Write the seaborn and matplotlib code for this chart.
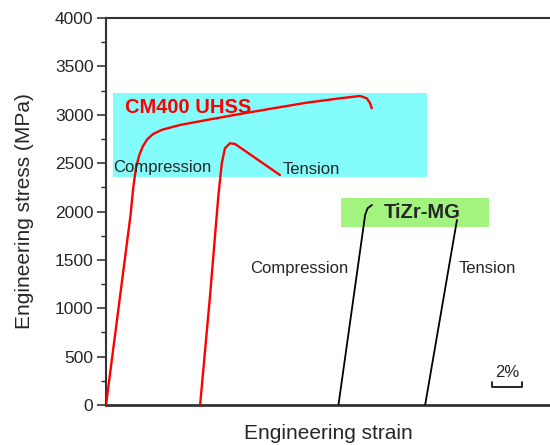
import numpy as np
import pandas as pd
import matplotlib as mpl
mpl.use("Agg")
import matplotlib.pyplot as plt
import seaborn as sns
from matplotlib.patches import Rectangle

sns.set_style("ticks")
plt.rcParams['font.family'] = ['Liberation Sans', 'DejaVu Sans']

# strain in %, curves already shifted along x as in the original figure
cm_comp_strain = [0.0, 1.62, 1.80, 1.98, 2.18, 2.42, 2.72, 3.10, 3.70, 4.88, 6.65, 8.85, 11.05,
                  13.25, 15.45, 16.77, 17.21, 17.43, 17.54]
cm_comp_stress = [0, 1964, 2250, 2450, 2575, 2670, 2745, 2800, 2845, 2894, 2946, 3008, 3067,
                  3125, 3170, 3194, 3170, 3118, 3067]

cm_tens_strain = [6.21, 6.86, 7.41, 7.64, 7.85, 8.18, 8.51, 8.84, 11.48]
cm_tens_stress = [0, 1119, 2153, 2498, 2653, 2705, 2698, 2663, 2377]

mg_comp_strain = [15.34, 17.10, 17.26, 17.55]
mg_comp_stress = [0, 1964, 2033, 2067]

mg_tens_strain = [21.06, 23.16]
mg_tens_stress = [0, 1912]

curves = [
    ("CM400 compression", cm_comp_strain, cm_comp_stress, "red", 1.7),
    ("CM400 tension", cm_tens_strain, cm_tens_stress, "red", 1.7),
    ("TiZr compression", mg_comp_strain, mg_comp_stress, "black", 1.3),
    ("TiZr tension", mg_tens_strain, mg_tens_stress, "black", 1.3),
]

fig = plt.figure(figsize=(5.5, 4.45), dpi=100)
ax = fig.add_axes([106 / 550, 40 / 445, 444 / 550, 387 / 445])

# highlight boxes behind the curves
ax.add_patch(Rectangle((0.44, 2357), 21.2 - 0.44, 3225 - 2357, color="#84FCFC", lw=0, zorder=0))
ax.add_patch(Rectangle((15.5, 1840), 25.3 - 15.5, 2136 - 1840, color="#A2F47E", lw=0, zorder=0))

for name, x, y, c, lw in curves:
    df = pd.DataFrame({"strain": x, "stress": y})
    sns.lineplot(data=df, x="strain", y="stress", sort=False, color=c, lw=lw, ax=ax, zorder=3)

ax.text(1.25, 3078, "CM400 UHSS", color="red", fontsize=14.5, fontweight="bold", va="center")
ax.text(0.46, 2450, "Compression", fontsize=12, va="center", zorder=4)
ax.text(11.68, 2430, "Tension", fontsize=12, va="center")
ax.text(18.3, 1985, "TiZr-MG", fontsize=14.5, fontweight="bold", va="center")
ax.text(9.5, 1416, "Compression", fontsize=12, va="center")
ax.text(23.3, 1416, "Tension", fontsize=12, va="center")

# 2% scale bar
ax.plot([25.46, 25.46, 27.46, 27.46], [235, 189, 189, 235], color="black", lw=1.2)
ax.text(26.46, 340, "2%", fontsize=12, ha="center", va="center")

ax.set_xlim(0, 29.3)
ax.set_ylim(0, 4000)
ax.set_yticks(np.arange(0, 4001, 500))
ax.set_yticks(np.arange(0, 4001, 250), minor=True)
ax.set_xticks([])
ax.tick_params(axis="y", which="major", length=6.5, width=1.1, labelsize=12.5, pad=2.5)
ax.tick_params(axis="y", which="minor", length=3.3, width=1.0)
for s in ["left", "top"]:
    ax.spines[s].set_linewidth(1.5)
    ax.spines[s].set_color("#333333")
ax.spines["bottom"].set_linewidth(2.0)
ax.spines["bottom"].set_color("#333333")
ax.spines["right"].set_visible(False)

ax.set_xlabel("Engineering strain", fontsize=15)
ax.set_ylabel("Engineering stress (MPa)", fontsize=15)
ax.xaxis.set_label_coords(0.5, -0.05)
ax.yaxis.set_label_coords(-0.162, 0.5)

fig.savefig("out.png", dpi=100)
